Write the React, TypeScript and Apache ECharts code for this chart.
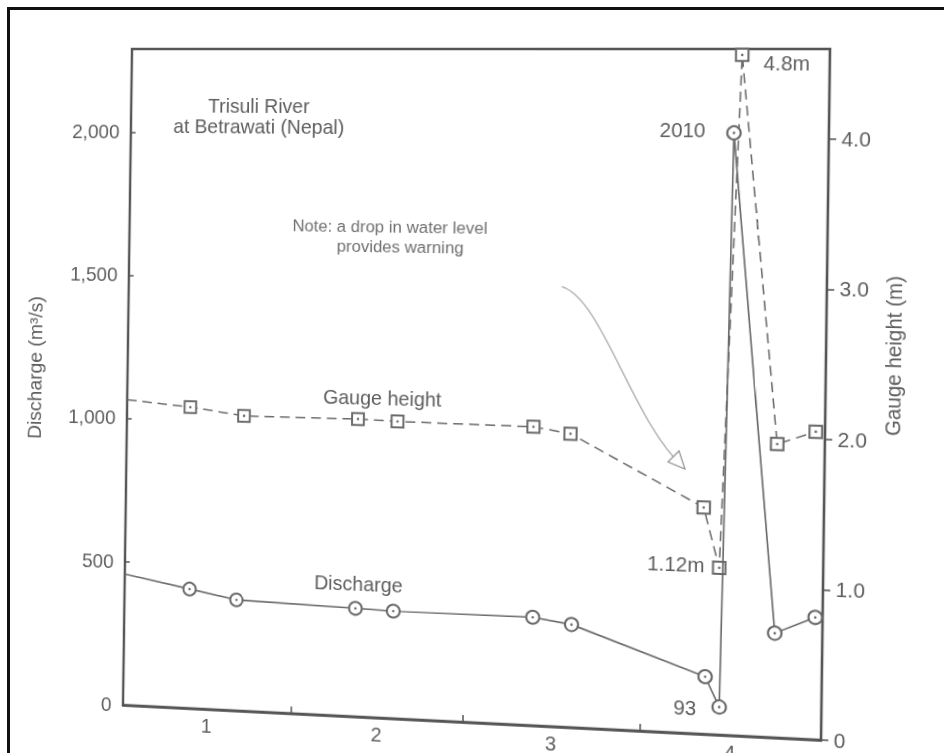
import { useEffect, useRef } from "react";
import * as echarts from "echarts";

// ---------------- data ----------------
// time axis: days 1..4 (axis runs 0..4, each day is one band)
const dischargeTime = [0, 0.39, 0.67, 1.37, 1.59, 2.39, 2.61, 3.36, 3.44, 3.48, 3.74, 3.96];
const dischargeValue = [457, 414, 383, 371, 367, 366, 347, 192, 93, 2010, 347, 405]; // m3/s
const gaugeTime = [0, 0.38, 0.70, 1.37, 1.60, 2.38, 2.59, 3.34, 3.43, 3.52, 3.74, 3.95];
const gaugeHeight = [2.14, 2.10, 2.05, 2.05, 2.04, 2.03, 1.99, 1.52, 1.12, 4.8, 1.96, 2.05]; // m

const dischargeTicks = [0, 500, 1000, 1500, 2000];
const gaugeTicks = [0, 1, 2, 3, 4];
const dayTickValues = [1, 2, 3];
const dayLabelValues = [0.5, 1.5, 2.5, 3.5];
const dayLabels = ["1", "2", "3", "4"];

const DISCHARGE_MAX = 2290;
const GAUGE_MAX = 4.6;
const GAUGE_CLIP = 4.56; // off-scale readings are drawn against the top frame, as in the figure

// ---------------- layout ----------------
const CW = 944;
const CH = 800;
const GX = 132;
const GY = 49;
const GW = 698;
const GH = 674;
// where the grid corners sit on the photographed page: TL, TR, BR, BL
const QUAD: number[][] = [
  [132, 49],
  [830, 49],
  [821, 740],
  [123, 705],
];

type M3 = number[][];
function squareToQuad(q: number[][]): M3 {
  const [[x0, y0], [x1, y1], [x2, y2], [x3, y3]] = q;
  const sx = x0 - x1 + x2 - x3;
  const sy = y0 - y1 + y2 - y3;
  const dx1 = x1 - x2, dx2 = x3 - x2, dy1 = y1 - y2, dy2 = y3 - y2;
  const det = dx1 * dy2 - dx2 * dy1;
  const g = (sx * dy2 - dx2 * sy) / det;
  const h = (dx1 * sy - sx * dy1) / det;
  return [
    [x1 - x0 + g * x1, x3 - x0 + h * x3, x0],
    [y1 - y0 + g * y1, y3 - y0 + h * y3, y0],
    [g, h, 1],
  ];
}
function mul(A: M3, B: M3): M3 {
  const r: M3 = [[0, 0, 0], [0, 0, 0], [0, 0, 0]];
  for (let i = 0; i < 3; i++)
    for (let j = 0; j < 3; j++)
      for (let k = 0; k < 3; k++) r[i][j] += A[i][k] * B[k][j];
  return r;
}
function inv3(m: M3): M3 {
  const [[a, b, c], [d, e, f], [g, h, i]] = m;
  const A = e * i - f * h, B = -(d * i - f * g), C = d * h - e * g;
  const D = -(b * i - c * h), E = a * i - c * g, F = -(a * h - b * g);
  const G = b * f - c * e, HH = -(a * f - c * d), I = a * e - b * d;
  const det = a * A + b * B + c * C;
  return [
    [A / det, D / det, G / det],
    [B / det, E / det, HH / det],
    [C / det, F / det, I / det],
  ];
}
const S_INV: M3 = [
  [1 / GW, 0, -GX / GW],
  [0, 1 / GH, -GY / GH],
  [0, 0, 1],
];
const HM = mul(squareToQuad(QUAD), S_INV);
const HINV = inv3(HM);
function toChart(x: number, y: number): [number, number] {
  const p = HINV[0][0] * x + HINV[0][1] * y + HINV[0][2];
  const q = HINV[1][0] * x + HINV[1][1] * y + HINV[1][2];
  const r = HINV[2][0] * x + HINV[2][1] * y + HINV[2][2];
  return [p / r, q / r];
}
const MATRIX = `matrix3d(${HM[0][0]},${HM[1][0]},0,${HM[2][0]},${HM[0][1]},${HM[1][1]},0,${HM[2][1]},0,0,1,0,${HM[0][2]},${HM[1][2]},0,${HM[2][2]})`;

// ---------------- styling ----------------
const FONT = '"Liberation Sans", Arial, Helvetica, sans-serif';
const INK = "#6a6a6a";
const FRAME = "#555";
const TEXT = "#5e5e5e";

function label(text: string, sx: number, sy: number, size = 20, color = TEXT, extra: any = {}) {
  const [x, y] = toChart(sx, sy);
  return {
    type: "text",
    x,
    y,
    silent: true,
    ...extra,
    style: {
      text,
      fill: color,
      font: `${size}px ${FONT}`,
      align: "center",
      verticalAlign: "middle",
    },
  };
}

function buildOption() {
  const dischargeData = dischargeTime.map((t, i) =>
    i === 0 ? { value: [t, dischargeValue[i]], symbol: "none" } : [t, dischargeValue[i]]
  );
  const gaugeData = gaugeTime.map((t, i) => {
    const v = Math.min(gaugeHeight[i], GAUGE_CLIP);
    return i === 0 ? { value: [t, v], symbol: "none" } : [t, v];
  });
  const dischargeDots = dischargeTime.slice(1).map((t, i) => [t, dischargeValue[i + 1]]);
  const gaugeDots = gaugeTime.slice(1).map((t, i) => [t, Math.min(gaugeHeight[i + 1], GAUGE_CLIP)]);

  const peakIdx = dischargeValue.indexOf(Math.max(...dischargeValue));
  const lowIdx = peakIdx - 1;
  const gPeakIdx = gaugeHeight.indexOf(Math.max(...gaugeHeight));
  const gLowIdx = gPeakIdx - 1;

  const arrowStart = toChart(561.7, 286.7);
  const arrowC1 = toChart(602, 298);
  const arrowC2 = toChart(632, 420);
  const arrowEnd = toChart(683, 467);

  return {
    animation: false,
    backgroundColor: "#fff",
    textStyle: { fontFamily: FONT },
    grid: {
      left: GX,
      top: GY,
      width: GW,
      height: GH,
      show: true,
      borderColor: FRAME,
      borderWidth: 2.5,
      backgroundColor: "transparent",
    },
    xAxis: {
      type: "value",
      min: 0,
      max: 4,
      axisLine: { show: true, onZero: false, lineStyle: { color: FRAME, width: 2.5 } },
      axisTick: {
        show: true,
        customValues: dayTickValues,
        inside: true,
        length: 7,
        lineStyle: { color: FRAME, width: 1.5 },
      },
      axisLabel: {
        customValues: dayLabelValues,
        formatter: (v: number) => dayLabels[dayLabelValues.indexOf(v)] ?? "",
        margin: 7,
        fontSize: 20,
        color: TEXT,
        fontFamily: FONT,
      },
      splitLine: { show: false },
    },
    yAxis: [
      {
        type: "value",
        min: 0,
        max: DISCHARGE_MAX,
        position: "left",
        axisLine: { show: true, lineStyle: { color: FRAME, width: 2 } },
        axisTick: {
          show: true,
          customValues: dischargeTicks,
          inside: true,
          length: 5,
          lineStyle: { color: FRAME, width: 1.5 },
        },
        axisLabel: {
          customValues: dischargeTicks,
          formatter: (v: number) => v.toLocaleString("en-US"),
          margin: 12,
          fontSize: 20,
          color: TEXT,
          fontFamily: FONT,
        },
        splitLine: { show: false },
      },
      {
        type: "value",
        min: 0,
        max: GAUGE_MAX,
        position: "right",
        axisLine: { show: true, lineStyle: { color: FRAME, width: 2 } },
        axisTick: {
          show: true,
          customValues: gaugeTicks,
          inside: false,
          length: 7,
          lineStyle: { color: FRAME, width: 1.5 },
        },
        axisLabel: {
          customValues: gaugeTicks,
          formatter: (v: number) => (v === 0 ? "0" : v.toFixed(1)),
          margin: 12,
          fontSize: 20,
          color: TEXT,
          fontFamily: FONT,
        },
        splitLine: { show: false },
      },
    ],
    series: [
      {
        name: "Gauge height",
        type: "line",
        yAxisIndex: 1,
        data: gaugeData,
        symbol: "emptyRect",
        symbolSize: 12,
        showAllSymbol: true,
        lineStyle: { color: INK, width: 1.5, type: [10, 6] },
        itemStyle: { color: INK, borderWidth: 1.2 },
        z: 2,
      },
      {
        name: "Discharge",
        type: "line",
        yAxisIndex: 0,
        data: dischargeData,
        symbol: "emptyCircle",
        symbolSize: 13,
        showAllSymbol: true,
        lineStyle: { color: INK, width: 1.6 },
        itemStyle: { color: INK, borderWidth: 1.3 },
        z: 3,
      },
      {
        type: "scatter",
        yAxisIndex: 1,
        data: gaugeDots,
        symbol: "circle",
        symbolSize: 2.5,
        itemStyle: { color: "#444" },
        silent: true,
        z: 4,
      },
      {
        type: "scatter",
        yAxisIndex: 0,
        data: dischargeDots,
        symbol: "circle",
        symbolSize: 2.5,
        itemStyle: { color: "#444" },
        silent: true,
        z: 4,
      },
    ],
    graphic: [
      label("Trisuli River", 258.7, 106),
      label("at Betrawati (Nepal)", 258.3, 127),
      label("Note: a drop in water level", 389.3, 226.7, 17, "#707070"),
      label("provides warning", 400, 246.7, 17, "#707070"),
      label("Gauge height", 382, 398.3),
      label("Discharge", 358.3, 584),
      label(String(dischargeValue[peakIdx]), 682.5, 130),
      label(`${gaugeHeight[gPeakIdx]}m`, 786.7, 63.3),
      label(`${gaugeHeight[gLowIdx].toFixed(2)}m`, 675.8, 564),
      label(String(dischargeValue[lowIdx]), 684.7, 708.3),
      label("Discharge (m³/s)", 35, 367.5, 20, TEXT, { rotation: Math.PI / 2 }),
      label("Gauge height (m)", 894, 356, 20, TEXT, { rotation: Math.PI / 2 }),
      {
        type: "bezierCurve",
        silent: true,
        shape: {
          x1: arrowStart[0],
          y1: arrowStart[1],
          cpx1: arrowC1[0],
          cpy1: arrowC1[1],
          cpx2: arrowC2[0],
          cpy2: arrowC2[1],
          x2: arrowEnd[0],
          y2: arrowEnd[1],
        },
        style: { stroke: "#9a9a9a", lineWidth: 1.1, fill: "none" },
      },
      {
        type: "polygon",
        silent: true,
        shape: { points: [toChart(685, 469), toChart(668, 462), toChart(679, 451)] },
        style: { stroke: "#8a8a8a", lineWidth: 1.1, fill: "#fff" },
      },
    ],
  };
}

export default function App() {
  const ref = useRef<HTMLDivElement>(null);
  useEffect(() => {
    if (!ref.current) return;
    const chart = echarts.init(ref.current, null, { renderer: "svg" });
    chart.setOption(buildOption() as any);
    return () => chart.dispose();
  }, []);
  return (
    <div
      style={{
        position: "absolute",
        left: 0,
        top: 0,
        width: 944,
        height: 753,
        overflow: "hidden",
        background: "#fff",
      }}
    >
      <div
        ref={ref}
        style={{
          position: "absolute",
          left: 0,
          top: 0,
          width: CW,
          height: CH,
          transformOrigin: "0 0",
          transform: MATRIX,
        }}
      />
      <div
        style={{
          position: "absolute",
          left: 7,
          top: 7,
          width: 960,
          height: 800,
          borderTop: "3px solid #111",
          borderLeft: "3px solid #111",
          pointerEvents: "none",
        }}
      />
    </div>
  );
}
